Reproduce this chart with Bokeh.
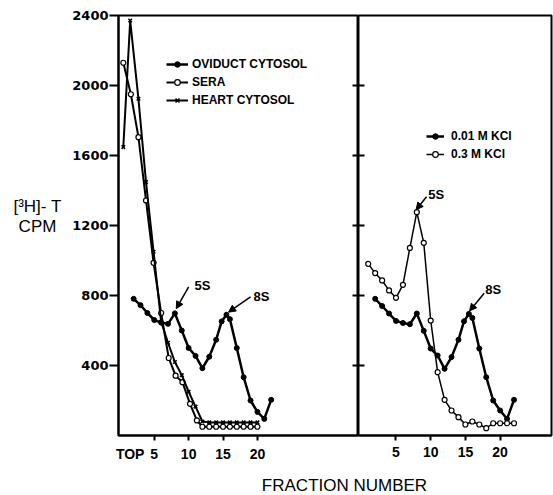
from bokeh.plotting import figure
from bokeh.layouts import column, row
from bokeh.models import (Range1d, LinearAxis, FixedTicker, Label, Arrow, NormalHead,
                          Legend, LegendItem)
from bokeh.embed import file_html
from bokeh.resources import INLINE

# ---------------- data ----------------
# Left panel
oviduct_frac = [2, 3, 4, 5, 6, 7, 8, 9, 10, 11, 12, 13, 14, 14.8, 15.5, 16, 17, 18, 19, 20, 21, 22]
oviduct_cpm = [781, 745, 700, 660, 645, 638, 698, 600, 500, 455, 385, 450, 547, 652, 690, 665, 500, 333, 200, 135, 95, 204]

sera_frac = [0.5, 1.6, 2.7, 3.8, 4.9, 6, 7.1, 8.1, 9.1, 10.2, 11.2, 12, 13, 14, 15, 16, 17, 18, 19, 20]
sera_cpm = [2130, 1950, 1705, 1343, 987, 700, 443, 342, 305, 181, 86, 50, 50, 50, 50, 50, 50, 50, 50, 50]

heart_frac = [0.5, 1.5, 2.7, 3.8, 4.9, 6, 7, 8, 9, 10, 11, 12, 13, 14, 15, 16, 17, 18, 19, 20]
heart_cpm = [1648, 2371, 1924, 1448, 1050, 650, 530, 420, 345, 250, 165, 80, 75, 75, 75, 75, 75, 75, 75, 75]

# Right panel
kcl001_frac = [2, 3, 4, 5, 6, 7, 8, 9, 10, 11, 12, 13, 14, 14.8, 15.5, 16, 17, 18, 19, 20, 21, 22]
kcl001_cpm = [781, 740, 697, 655, 643, 636, 697, 598, 497, 457, 381, 448, 547, 653, 695, 672, 497, 333, 200, 143, 95, 204]

kcl03_frac = list(range(1, 23))
kcl03_cpm = [981, 928, 886, 829, 787, 861, 1072, 1276, 1101, 657, 362, 204, 143, 105, 63, 80, 63, 42, 70, 70, 70, 70]

x_ticks = [5, 10, 15, 20]
top_tick = 1.5
x_label_ticks = [top_tick] + x_ticks
x_label_overrides = {top_tick: "TOP"}
y_ticks = [400, 800, 1200, 1600, 2000, 2400]
y_inner_ticks = [400, 800, 1200, 1600, 2000]

left_legend = ["OVIDUCT CYTOSOL", "SERA", "HEART CYTOSOL"]
right_legend = ["0.01 M KCl", "0.3 M KCl"]
y_label_lines = ["[³H]- T", "CPM"]
x_label = "FRACTION NUMBER"

# annotation anchors (data coords)
left_5s = dict(text=(12.0, 860), arrow=(10.0, 849, 8.2, 725))
left_8s = dict(text=(20.6, 792), arrow=(19.0, 792, 15.8, 705))
right_5s = dict(text=(10.8, 1377), arrow=(9.4, 1364, 7.9, 1290))
right_8s = dict(text=(19.0, 832), arrow=(17.7, 813, 15.6, 712))

BOLD = "Liberation Sans"
LW = 2
Y_W = 66          # width of the y-label strip
PANEL_H = 465


def style_panel(p):
    p.background_fill_color = "white"
    p.border_fill_color = "white"
    p.outline_line_color = "black"
    p.outline_line_width = 2
    p.xgrid.visible = False
    p.ygrid.visible = False


def tick_style(ax, out=5, inn=0):
    ax.major_tick_out = out
    ax.major_tick_in = inn
    ax.minor_tick_out = 0
    ax.minor_tick_in = 0
    ax.major_tick_line_width = 2
    ax.axis_line_width = 2


def label_style(ax, font=BOLD, size="14px"):
    ax.major_label_text_font = font
    ax.major_label_text_font_style = "bold"
    ax.major_label_text_font_size = size
    ax.major_label_text_color = "black"


def hide_labels(ax, ticks):
    ax.major_label_overrides = {t: "" for t in ticks}
    ax.major_label_text_font_size = "1px"
    ax.major_label_standoff = 0


def inner_axis(p, side):
    ax = LinearAxis(ticker=FixedTicker(ticks=y_inner_ticks))
    tick_style(ax, out=0, inn=6)
    ax.axis_line_color = None
    hide_labels(ax, y_inner_ticks)
    p.add_layout(ax, side)


def add_text(p, txt, x, y, size="13px", bold=True):
    p.add_layout(Label(x=x, y=y, text=txt, text_align="center", text_baseline="middle",
                       text_font=BOLD, text_font_size=size,
                       text_font_style="bold" if bold else "normal", text_color="black"))


def add_peak(p, name, spec):
    tx, ty = spec["text"]
    add_text(p, name, tx, ty)
    xs, ys, xe, ye = spec["arrow"]
    p.add_layout(Arrow(x_start=xs, y_start=ys, x_end=xe, y_end=ye, line_width=1.5,
                       end=NormalHead(size=7, fill_color="black", line_color="black")))


legend_style = dict(padding=0, spacing=4, glyph_height=14, label_height=14,
                    border_line_alpha=0, background_fill_alpha=0,
                    label_text_font=BOLD, label_text_font_style="bold",
                    label_text_font_size="12px", label_text_color="black")

# ---------------- y-label strip ----------------
fY = figure(width=Y_W, height=PANEL_H, x_range=Range1d(0, Y_W), y_range=Range1d(0, PANEL_H),
            output_backend="svg", toolbar_location=None, x_axis_type=None, y_axis_type=None,
            min_border=0)
fY.outline_line_color = None
fY.xgrid.visible = False
fY.ygrid.visible = False
add_text(fY, y_label_lines[0], 37, PANEL_H - 211, size="17px", bold=False)
add_text(fY, y_label_lines[1], 37, PANEL_H - 234, size="17px", bold=False)

# ---------------- left panel ----------------
fL = figure(width=358 - Y_W, height=PANEL_H, x_range=Range1d(-0.2, 34.7), y_range=Range1d(0, 2400),
            output_backend="svg", toolbar_location=None,
            min_border_left=118 - Y_W, min_border_right=0, min_border_top=15, min_border_bottom=30)
style_panel(fL)

# tick-only bottom axis + separate label axis (so "TOP" has no tick mark)
xa = fL.xaxis[0]
xa.ticker = FixedTicker(ticks=x_ticks)
tick_style(xa, out=5)
hide_labels(xa, x_ticks)
xl = LinearAxis(ticker=FixedTicker(ticks=x_label_ticks), major_label_overrides=x_label_overrides)
tick_style(xl, out=0)
xl.axis_line_color = None
xl.major_label_standoff = 5
label_style(xl)
fL.add_layout(xl, "below")

ya = fL.yaxis[0]
ya.ticker = FixedTicker(ticks=y_ticks)
tick_style(ya, out=9)
ya.major_label_standoff = 1
label_style(ya, font="DejaVu Sans", size="13px")
inner_axis(fL, "right")

l1 = fL.line(oviduct_frac, oviduct_cpm, line_color="black", line_width=LW + 0.5)
s1 = fL.scatter(oviduct_frac, oviduct_cpm, marker="circle", size=5, fill_color="black", line_color="black")
l2 = fL.line(sera_frac, sera_cpm, line_color="black", line_width=LW)
s2 = fL.scatter(sera_frac, sera_cpm, marker="circle", size=5, fill_color="white", line_color="black", line_width=1.2)
l3 = fL.line(heart_frac, heart_cpm, line_color="black", line_width=LW)
s3 = fL.scatter(heart_frac, heart_cpm, marker="x", size=5, line_color="black", line_width=1.5)

legL = Legend(items=[LegendItem(label=left_legend[0], renderers=[l1, s1]),
                     LegendItem(label=left_legend[1], renderers=[l2, s2]),
                     LegendItem(label=left_legend[2], renderers=[l3, s3])],
              location=(48, 328), glyph_width=22, label_standoff=4, **legend_style)
fL.add_layout(legL)

add_peak(fL, "5S", left_5s)
add_peak(fL, "8S", left_8s)

# ---------------- right panel ----------------
fR = figure(width=195, height=PANEL_H, x_range=Range1d(-0.4, 27.4), y_range=Range1d(0, 2400),
            output_backend="svg", toolbar_location=None, y_axis_location=None,
            min_border_left=0, min_border_right=2, min_border_top=15, min_border_bottom=30)
style_panel(fR)
xr = fR.xaxis[0]
xr.ticker = FixedTicker(ticks=x_ticks)
tick_style(xr, out=5)
xr.major_label_standoff = 6
label_style(xr)
inner_axis(fR, "left")

r1 = fR.line(kcl001_frac, kcl001_cpm, line_color="black", line_width=LW + 0.5)
rs1 = fR.scatter(kcl001_frac, kcl001_cpm, marker="circle", size=5, fill_color="black", line_color="black")
r2 = fR.line(kcl03_frac, kcl03_cpm, line_color="black", line_width=1.5)
rs2 = fR.scatter(kcl03_frac, kcl03_cpm, marker="circle", size=5, fill_color="white", line_color="black", line_width=1.2)

legR = Legend(items=[LegendItem(label=right_legend[0], renderers=[r1, rs1]),
                     LegendItem(label=right_legend[1], renderers=[r2, rs2])],
              location=(68, 274), glyph_width=18, label_standoff=7, **legend_style)
fR.add_layout(legR)

add_peak(fR, "5S", right_5s)
add_peak(fR, "8S", right_8s)

# ---------------- common x label ----------------
fX = figure(width=553, height=30, x_range=Range1d(0, 553), y_range=Range1d(0, 30),
            output_backend="svg", toolbar_location=None, x_axis_type=None, y_axis_type=None,
            min_border=0)
fX.outline_line_color = None
fX.xgrid.visible = False
fX.ygrid.visible = False
fX.add_layout(Label(x=344, y=10, text=x_label, text_align="center", text_baseline="middle",
                    text_font=BOLD, text_font_size="17px", text_color="black"))

p = column(row(fY, fL, fR), fX)
open("out.html", "w").write(file_html(p, INLINE))
